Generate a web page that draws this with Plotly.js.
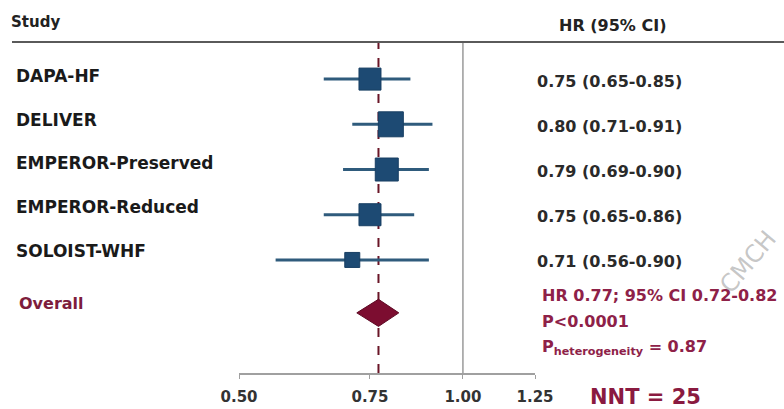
<!DOCTYPE html>
<html>
<head>
<meta charset="utf-8">
<script src="https://cdn.plot.ly/plotly-3.0.1.min.js"></script>
<style>html,body{margin:0;padding:0;background:#fff;}#chart{width:784px;height:409px;}</style>
</head>
<body>
<div id="chart"></div>
<script>
// ---- data ----
const studies = ["DAPA-HF", "DELIVER", "EMPEROR-Preserved", "EMPEROR-Reduced", "SOLOIST-WHF"];
const hr = [0.75, 0.80, 0.79, 0.75, 0.71];
const ciLow = [0.65, 0.71, 0.69, 0.65, 0.56];
const ciHigh = [0.85, 0.91, 0.90, 0.86, 0.90];
const overallHR = 0.77;
const overallLow = 0.72;
const overallHigh = 0.82;
const overallP = "P<0.0001";
const pHeterogeneity = 0.87;
const nnt = 25;
const xTickVals = [0.50, 0.75, 1.00, 1.25];
const xTickLabels = ["0.50", "0.75", "1.00", "1.25"];

// ---- layout helpers ----
const W = 784, H = 409;
const PL = 239, PR = 535, PT = 42, PB = 373;
const pxX = px => (px - PL) / (PR - PL);
const pxY = py => (PB - py) / (PB - PT);
const FONT = "DejaVu Sans, Liberation Sans, Arial, sans-serif";
const maroon = "#8e2148";
const rows = studies.map((_, i) => i + 1);
const overallRow = studies.length + 1.17;
const squareSizes = [22, 25, 23, 22, 15];
const f2 = v => v.toFixed(2);

const traces = [
  {
    type: "scatter", mode: "markers",
    x: hr, y: rows,
    error_x: {
      type: "data", symmetric: false,
      array: hr.map((v, i) => ciHigh[i] - v),
      arrayminus: hr.map((v, i) => v - ciLow[i]),
      color: "#2f5b7c", thickness: 3, width: 0
    },
    marker: { symbol: "square", size: squareSizes, opacity: 1, color: "#1d4a73", line: { color: "#183f63", width: 1 } },
    hoverinfo: "skip", cliponaxis: false
  },
  {
    type: "scatter", mode: "lines",
    x: [overallLow, overallHR, overallHigh, overallHR, overallLow],
    y: [overallRow, overallRow - 0.3, overallRow, overallRow + 0.3, overallRow],
    fill: "toself", fillcolor: "#7c0d30",
    line: { color: "#5e0a24", width: 1 },
    hoverinfo: "skip", cliponaxis: false
  }
];

const annotations = [];
annotations.push({ xref: "paper", yref: "paper", x: pxX(9), y: pxY(22), xanchor: "left", yanchor: "middle",
  text: "<b>Study</b>", showarrow: false, font: { family: FONT, size: 15, color: "#222" } });
annotations.push({ xref: "paper", yref: "paper", x: pxX(557), y: pxY(25), xanchor: "left", yanchor: "middle",
  text: "<b>HR (95% CI)</b>", showarrow: false, font: { family: FONT, size: 16, color: "#222" } });

studies.forEach((s, i) => {
  annotations.push({ xref: "paper", yref: "y", x: pxX(14), y: rows[i], yshift: 3 + 1.6 * i,
    xanchor: "left", yanchor: "middle", text: "<b>" + s + "</b>", showarrow: false,
    font: { family: FONT, size: 17, color: "#1a1a1a" } });
  annotations.push({ xref: "paper", yref: "y", x: pxX(535), y: rows[i], yshift: -2,
    xanchor: "left", yanchor: "middle",
    text: "<b>" + f2(hr[i]) + " (" + f2(ciLow[i]) + "-" + f2(ciHigh[i]) + ")</b>", showarrow: false,
    font: { family: FONT, size: 16, color: "#2a2a2a" } });
});

annotations.push({ xref: "paper", yref: "paper", x: pxX(17), y: pxY(303), xanchor: "left", yanchor: "middle",
  text: "<b>Overall</b>", showarrow: false, font: { family: FONT, size: 16, color: "#7d1d3c" } });
annotations.push({ xref: "paper", yref: "paper", x: pxX(540), y: pxY(295), xanchor: "left", yanchor: "middle",
  text: "<b>HR " + f2(overallHR) + "; 95% CI " + f2(overallLow) + "-" + f2(overallHigh) + "</b>", showarrow: false,
  font: { family: FONT, size: 16, color: maroon } });
annotations.push({ xref: "paper", yref: "paper", x: pxX(540), y: pxY(321), xanchor: "left", yanchor: "middle",
  text: "<b>" + overallP + "</b>", showarrow: false, font: { family: FONT, size: 16, color: maroon } });
annotations.push({ xref: "paper", yref: "paper", x: pxX(540), y: pxY(347), xanchor: "left", yanchor: "middle",
  text: "<b>P<sub>heterogeneity</sub> = " + f2(pHeterogeneity) + "</b>", showarrow: false,
  font: { family: FONT, size: 16, color: maroon } });
annotations.push({ xref: "paper", yref: "paper", x: pxX(588), y: pxY(397), xanchor: "left", yanchor: "middle",
  text: "<b>NNT = " + nnt + "</b>", showarrow: false, font: { family: FONT, size: 21, color: "#8a1a40" } });
annotations.push({ xref: "paper", yref: "paper", x: pxX(748), y: pxY(262), xanchor: "center", yanchor: "middle",
  text: "CMCH", textangle: -50, showarrow: false, font: { family: FONT, size: 24, color: "rgba(150,150,150,0.55)" } });

const shapes = [
  { type: "line", xref: "paper", yref: "paper", x0: pxX(12), x1: pxX(784), y0: 1, y1: 1,
    line: { color: "#5a5a5a", width: 2 } },
  { type: "line", xref: "x", yref: "paper", x0: 1, x1: 1, y0: 0, y1: 1,
    line: { color: "#9a9a9a", width: 1.5 }, layer: "below" },
  { type: "line", xref: "x", yref: "paper", x0: overallHR, x1: overallHR, y0: 0, y1: 1,
    line: { color: "#6a1527", width: 2, dash: "dash" }, layer: "below" }
];

const layout = {
  width: W, height: H,
  margin: { l: PL, r: W - PR, t: PT, b: H - PB, pad: 0 },
  paper_bgcolor: "#fff", plot_bgcolor: "#fff",
  showlegend: false,
  xaxis: {
    type: "log", range: [Math.log10(xTickVals[0]), Math.log10(xTickVals[xTickVals.length - 1])],
    tickmode: "array", tickvals: xTickVals, ticktext: xTickLabels,
    showgrid: false, zeroline: false, showline: true, linecolor: "#a0a0a0", linewidth: 1.5,
    ticks: "outside", ticklen: 4, tickcolor: "#a0a0a0", ticklabelstandoff: 5,
    tickfont: { family: FONT, size: 15, color: "#333", weight: "bold" }, fixedrange: true
  },
  yaxis: { range: [7.5, 0.18], visible: false, fixedrange: true },
  annotations: annotations,
  shapes: shapes
};

Plotly.newPlot("chart", traces, layout, { displayModeBar: false, staticPlot: true });
</script>
</body>
</html>
